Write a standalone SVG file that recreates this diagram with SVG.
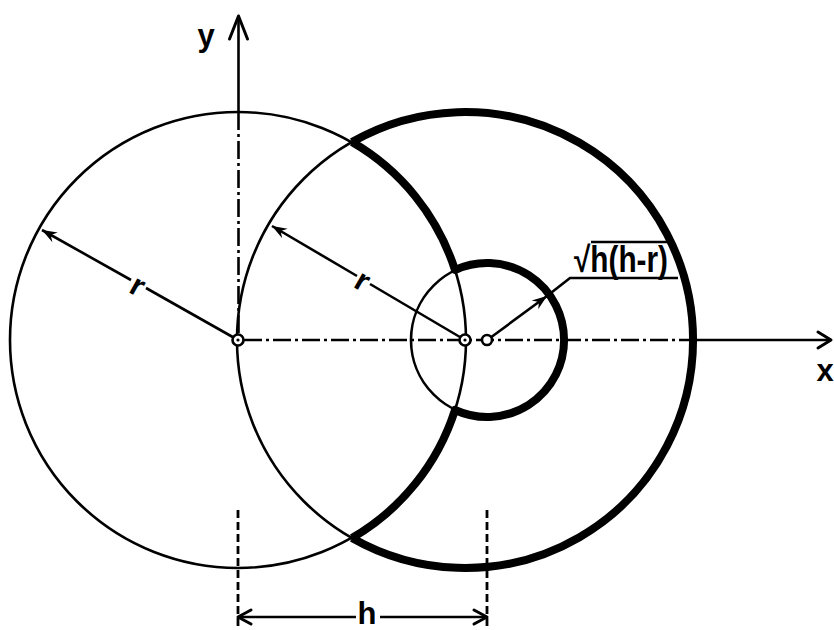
<svg xmlns="http://www.w3.org/2000/svg" width="834" height="630" viewBox="0 0 834 630">
<style>
.thin{fill:none;stroke:#000;stroke-width:2.6}
.thick{fill:none;stroke:#000;stroke-width:8;stroke-linejoin:round}
.axis{fill:none;stroke:#000;stroke-width:2.6}
.dd{fill:none;stroke:#000;stroke-width:2.6;stroke-dasharray:18 4 3 4}
.dash{fill:none;stroke:#000;stroke-width:2.8;stroke-dasharray:8 4}
.open{fill:none;stroke:#000;stroke-width:3;stroke-linecap:round;stroke-linejoin:round}
.lbl{font-family:"Liberation Sans",Arial,sans-serif;font-weight:bold;font-size:31px;fill:#000}
.big{font-size:36px}
.mark{fill:#fff;stroke:#000;stroke-width:2.6}
</style>
<defs>
<marker id="ah" markerUnits="userSpaceOnUse" markerWidth="20" markerHeight="14" viewBox="-16 -7 18 14" refX="0" refY="0" orient="auto">
<path d="M0,0 L-15,-5.5 L-10,0 L-15,5.5 Z" fill="#000"/>
</marker>
</defs>
<g id="circle-left"><circle class="thin" cx="238" cy="340" r="228"/></g>
<g id="circle-right"><circle class="thin" cx="465" cy="340" r="228"/></g>
<g id="circle-small"><circle class="thin" cx="488" cy="340" r="77"/></g>
<g id="outline">
<path class="thick" d="M352,142 A228,228 0 1 1 352,538"/>
<path class="thick" d="M352,142 A228,228 0 0 1 455,270 A77,77 0 1 1 455,410 A228,228 0 0 1 352,538"/>
</g>
<g id="connectors">
<path class="axis" d="M238.5,16 L238.5,112"/>
<path class="dd" d="M238.5,112 L238.5,334"/>
<path class="open" d="M229.5,39 L238.5,16 L247.5,39"/>
<path class="dd" d="M244,340 L693,340"/>
<path class="axis" d="M693,340 L831,340"/>
<path class="open" d="M818,332 L831,340 L818,348"/>
<path class="thin" d="M238,340 L146,288"/>
<path class="thin" d="M131,280 L42,230" marker-end="url(#ah)"/>
<path class="thin" d="M465,340 L370,284"/>
<path class="thin" d="M357,276 L272,226" marker-end="url(#ah)"/>
<path class="thin" d="M490,338 L547,296" marker-end="url(#ah)"/>
<path class="thin" d="M547,296 L570,278 L678,278"/>
<path class="dash" d="M238,510 L238,630"/>
<path class="dash" d="M487,510 L487,630"/>
<path class="thin" d="M238,617 L356,617 M380,617 L487,617"/>
<path class="open" d="M251,610 L238,617 L251,624"/>
<path class="open" d="M474,610 L487,617 L474,624"/>
<line x1="591" y1="242" x2="670" y2="242" stroke="#000" stroke-width="2.6"/>
</g>
<g id="centers">
<circle class="mark" cx="238" cy="340" r="5.5"/><circle cx="238" cy="340" r="1.6"/>
<circle class="mark" cx="465" cy="340" r="5.5"/><circle cx="465" cy="340" r="1.6"/>
<circle class="mark" cx="487" cy="340" r="5"/>
</g>
<g id="labels">
<text class="lbl" x="206" y="46" text-anchor="middle">y</text>
<text class="lbl" x="825" y="381" text-anchor="middle">x</text>
<text class="lbl" x="367" y="624" text-anchor="middle">h</text>
<text class="lbl" x="138" y="296" text-anchor="middle" transform="rotate(29 138 285)">r</text>
<text class="lbl" x="363" y="291" text-anchor="middle" transform="rotate(30 363 280)">r</text>
<text class="lbl big" x="574" y="272" textLength="94" lengthAdjust="spacingAndGlyphs">√h(h-r)</text>
</g>
</svg>
